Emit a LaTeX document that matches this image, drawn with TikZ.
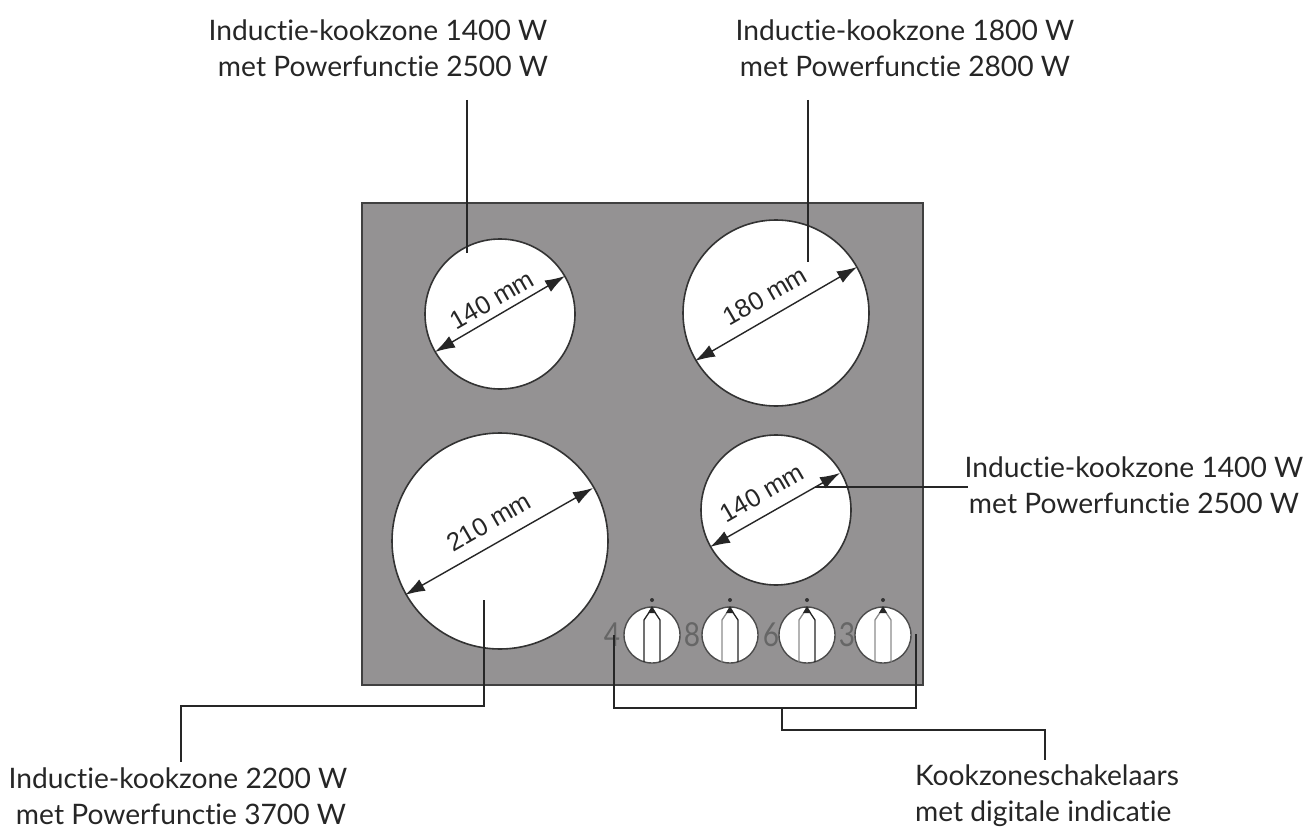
\documentclass[tikz,border=0pt]{standalone}
\usepackage{fontspec}
\setmainfont[Ligatures=NoCommon]{Lato}
\newfontfamily\dimfont{Liberation Sans}
\usetikzlibrary{arrows.meta}
\tikzset{
 plate/.style={draw=black!75,line width=1.5pt,fill=plategray,minimum width=561pt,minimum height=482pt,anchor=north west,inner sep=0pt},
 zone/.style={circle,draw=black!80,line width=1.6pt,fill=white,inner sep=0pt},
 knob/.style={circle,draw=black!70,line width=1.4pt,fill=white,inner sep=0pt,minimum size=56pt},
 lead/.style={draw=black!85,line width=1.4pt},
 dimline/.style={draw=black!85,line width=1.4pt,{Latex[length=20pt,width=13pt]}-{Latex[length=20pt,width=13pt]}},
 dimtext/.style={font=\dimfont\fontsize{25.5}{25.5}\selectfont,text=black!85,inner sep=0pt},
 caption/.style={font=\fontsize{28.2}{36}\selectfont,text=black!85,align=center,inner sep=0pt,anchor=center},
 digit/.style={font=\fontsize{33}{33}\selectfont,text=black!60,inner sep=0pt,xscale=.85},
 dotmark/.style={circle,fill=black!80,inner sep=0pt,minimum size=4pt},
 stripeD/.style={draw=black!85,line width=1.3pt},
 stripeL/.style={draw=black!45,line width=1.3pt},
}
\definecolor{plategray}{RGB}{148,146,147}
\begin{document}
\begin{tikzpicture}[x=1pt,y=-1pt]
\useasboundingbox (0,0) rectangle (1312,840);
\node[plate] (plate) at (361,202) {};
\node[zone,minimum size=150pt] (z1) at (500,314) {};
\node[zone,minimum size=186pt] (z2) at (776,313) {};
\node[zone,minimum size=216pt] (z3) at (500,541) {};
\node[zone,minimum size=150pt] (z4) at (776,510) {};
% dimensions
\coordinate (d1a) at (435,352); \coordinate (d1b) at (565,276);
\coordinate (d2a) at (695,361); \coordinate (d2b) at (857,267);
\coordinate (d3a) at (405,595); \coordinate (d3b) at (593,488);
\coordinate (d4a) at (710,547); \coordinate (d4b) at (840,473);
\draw[dimline] (d1a) -- (d1b);
\draw[dimline] (d2a) -- (d2b);
\draw[dimline] (d3a) -- (d3b);
\draw[dimline] (d4a) -- (d4b);
\node[dimtext,rotate=30] (t1) at (492,300) {140 mm};
\node[dimtext,rotate=30] (t2) at (765,296) {180 mm};
\node[dimtext,rotate=30] (t3) at (489,522) {210 mm};
\node[dimtext,rotate=30] (t4) at (762,493) {140 mm};
% knobs
\foreach \n/\x/\a/\b in {1/652/D/D,2/730/L/D,3/807/L/D,4/883/L/L}{
 \node[knob] (k\n) at (\x,635) {};
 \draw[stripe\a] (\x-8,662) -- (\x-8,620) -- (\x,608);
 \draw[stripe\b] (\x+8,662) -- (\x+8,620) -- (\x,608);
 \fill[black!85] (\x-4,613) -- (\x+4,613) -- (\x,606) -- cycle;
 \node[dotmark] (m\n) at (\x,600) {};
}
\node[digit] (g4) at (612,635) {4};
\node[digit] (g8) at (692,635) {8};
\node[digit] (g6) at (771,635) {6};
\node[digit] (g3) at (847,635) {3};
% captions
\node[caption] (c1) at (378,48.5) {Inductie-kookzone 1400 W\\\hspace*{10pt}met Powerfunctie 2500 W};
\node[caption] (c2) at (905,48.5) {Inductie-kookzone 1800 W\\met Powerfunctie 2800 W};
\node[caption] (c3) at (1134,485.5) {Inductie-kookzone 1400 W\\met Powerfunctie 2500 W};
\node[caption] (c4) at (178,796) {Inductie-kookzone 2200 W\\\hspace*{6pt}met Powerfunctie 3700 W};
\node[caption,align=left] (c5) at (1047,796) {Kookzoneschakelaars\\met digitale indicatie};
% leaders
\coordinate (l1) at (467,253);
\coordinate (l2) at (808,262);
\coordinate (l3) at (815,487);
\coordinate (l4) at (484,600);
\coordinate (kl) at (614,635);
\coordinate (kr) at (916,634);
\draw[lead] (467,100) -- (l1);
\draw[lead] (808,100) -- (l2);
\draw[lead] (l3) -- (968,487);
\draw[lead] (l4) -- (484,706) -- (181,706) -- (181,762);
\draw[lead] (kl) -- (614,708) -- (916,708) -- (kr);
\draw[lead] (782,708) -- (782,730) -- (1045,730) -- (1045,760);
\end{tikzpicture}
\end{document}
